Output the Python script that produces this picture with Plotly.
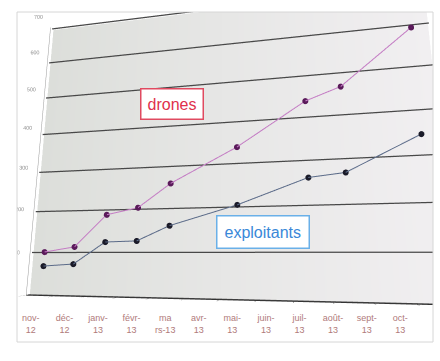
import plotly.graph_objects as go

# Monthly counts (Nov 2012 - Oct 2013); None = month without a reading
months = ["nov-<br>12", "déc-<br>12", "janv-<br>13", "févr-<br>13", "ma<br>rs-13", "avr-<br>13",
          "mai-<br>13", "juin-<br>13", "juil-<br>13", "août-<br>13", "sept-<br>13", "oct-<br>13"]
drones = [101, 113, 188, 203, 258, None, 337, None, 436, 464, None, 590]
exploitants = [68, 73, 124, 126, 160, None, 204, None, 260, 268, None, 344]
y_ticks = [0, 100, 200, 300, 400, 500, 600, 700]

idx = list(range(len(months)))
x_lo, x_hi = -0.5, len(months) - 0.5
z_lo, z_hi = y_ticks[0], y_ticks[-1]
boundaries = [i - 0.5 for i in range(len(months) + 1)]

# oblique, slightly low viewpoint on the chart plane
camera = dict(eye=dict(x=0.2710, y=-1.2602, z=-0.3632),
              center=dict(x=0.0144, y=0, z=-0.1155),
              up=dict(x=0, y=0, z=1),
              projection=dict(type="perspective"))


def present(values):
    """Indices and values of the months that have a reading."""
    pairs = [(i, v) for i, v in zip(idx, values) if v is not None]
    return [p[0] for p in pairs], [p[1] for p in pairs]


fig = go.Figure()

# shaded back wall of the plot area (light grey on the left, almost white on the right)
fig.add_trace(go.Surface(
    x=[[x_lo, x_hi], [x_lo, x_hi]], y=[[0.9, 0.9], [0.9, 0.9]],
    z=[[z_lo, z_lo], [z_hi, z_hi]],
    surfacecolor=[[0, 1], [0, 1]], cmin=0, cmax=1,
    colorscale=[[0, "#dcdeda"], [1, "#f1eff1"]], showscale=False,
    lighting=dict(ambient=1, diffuse=0, specular=0, roughness=1, fresnel=0),
    hoverinfo="skip"))

# horizontal gridlines
for t in y_ticks:
    fig.add_trace(go.Scatter3d(
        x=[x_lo, x_hi], y=[0.5, 0.5], z=[t, t], mode="lines",
        line=dict(color="#484848", width=2.5), hoverinfo="skip"))

for name, values, lcol, mcol in [("drones", drones, "#c47cc4", "#5a1a5a"),
                                 ("exploitants", exploitants, "#5a6a88", "#1a1a28")]:
    xs, zs = present(values)
    fig.add_trace(go.Scatter3d(
        x=xs, y=[0] * len(xs), z=zs, mode="lines+markers",
        line=dict(color=lcol, width=2),
        marker=dict(color=mcol, size=3.5, symbol="circle"),
        name=name, hoverinfo="skip"))

# month labels on a flat category axis under the chart
fig.add_trace(go.Scatter(x=idx, y=[0] * len(idx), mode="markers", marker=dict(opacity=0),
                         hoverinfo="skip", xaxis="x", yaxis="y"))

axis_common = dict(showspikes=False, title=dict(text=""), zeroline=False)
fig.update_layout(
    width=440, height=361,
    margin=dict(l=0, r=0, t=0, b=0),
    paper_bgcolor="white",
    plot_bgcolor="rgba(0,0,0,0)",
    showlegend=False,
    xaxis=dict(domain=[14/440, 417/440], range=[x_lo, x_hi], tickvals=idx, ticktext=months,
               tickangle=0, showgrid=False, zeroline=False, showline=False, ticks="",
               tickfont=dict(size=9, color="#b07a7a", family="Arial"), fixedrange=True),
    yaxis=dict(domain=[1 - 311/361, 1 - 297/361], visible=False, fixedrange=True),
    scene=dict(
        domain=dict(x=[17/440, 433/440], y=[1 - 342/361, 1 - 12/361]),
        aspectmode="manual",
        aspectratio=dict(x=1.3547, y=0.02, z=1.0048),
        bgcolor="rgba(0,0,0,0)",
        camera=camera,
        xaxis=dict(axis_common, range=[x_lo, x_hi], tickvals=boundaries, showticklabels=False,
                   showgrid=False, showbackground=False, showline=True,
                   linecolor="#333", linewidth=2, ticks="outside", ticklen=4,
                   tickcolor="#555"),
        yaxis=dict(axis_common, range=[0, 1], showticklabels=False, showgrid=False,
                   showbackground=False, showline=False, ticks=""),
        zaxis=dict(axis_common, range=[z_lo, z_hi], tickvals=y_ticks, tickangle=0,
                   showgrid=False, showbackground=False, showline=True, linecolor="#999",
                   tickfont=dict(size=8, color="#888", family="Arial")),
    ),
)

fig.add_shape(type="rect", xref="paper", yref="paper",
              x0=17/440, x1=433/440, y0=1 - 342/361, y1=1 - 12/361,
              line=dict(color="#d6d6d6", width=1))

fig.add_annotation(text="drones", xref="paper", yref="paper", x=172/440, y=1 - 88/361,
                   showarrow=False, font=dict(size=16, color="#e0304c", family="Arial"),
                   bgcolor="white", bordercolor="#e04a60", borderwidth=1.5, borderpad=6)
fig.add_annotation(text="exploitants", xref="paper", yref="paper", x=310/440, y=1 - 249/361,
                   showarrow=False, font=dict(size=16, color="#3a88d8", family="Arial"),
                   bgcolor="white", bordercolor="#6ab0e8", borderwidth=1.5, borderpad=7)

fig.write_html("out.html")
